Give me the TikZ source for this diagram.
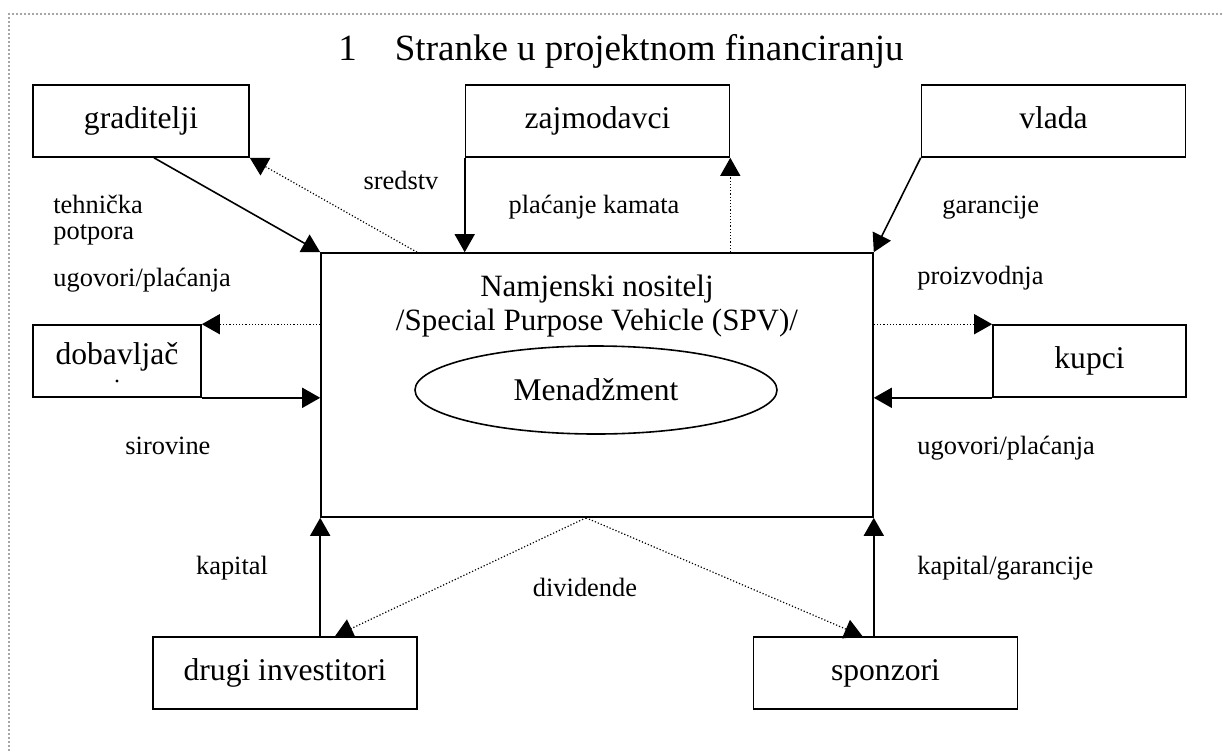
\documentclass[tikz,border=0pt]{standalone}
\usepackage{fontspec}
\setmainfont{Liberation Serif}
\usetikzlibrary{shapes.geometric,arrows.meta,positioning}
\tikzstyle{block} = [rectangle, draw, line width=0.8pt, text centered, minimum height=36pt, text height=11pt, text depth=3.4pt, font=\fontsize{15.8}{18}\selectfont]
\tikzstyle{wideblock} = [block, minimum width=132pt]
\tikzstyle{note} = [inner sep=0pt, text height=9pt, text depth=2.6pt, font=\fontsize{13.2}{15}\selectfont]
\tikzstyle{flow} = [line width=0.8pt, -{Triangle[length=9pt,width=10pt]}]
\tikzstyle{back} = [flow, line width=0.6pt, densely dotted]

\begin{document}
\begin{tikzpicture}[x=0.5pt,y=-0.5pt]
    \useasboundingbox (0,0) rectangle (1223,751);
    \draw [gray!70, line width=1pt, dash pattern=on 1pt off 1pt] (9,751) -- (9,14) -- (1223,14);

    \node [anchor=base west, inner sep=0pt, font=\fontsize{18.5}{22}\selectfont] (title) at (338,60) {1\hspace{19pt}Stranke u projektnom financiranju};

    \node [block, minimum width=108pt] (graditelji) at (141,121) {graditelji};
    \node [wideblock] (zajmodavci) at (597.5,121) {zajmodavci};
    \node [wideblock] (vlada) at (1053.5,121) {vlada};
    \node [block, minimum width=84pt, text depth=7.4pt] (dobavljac) at (117,361) {dobavljač};
    \node [block, minimum width=96.5pt] (kupci) at (1089.5,361) {kupci};
    \node [wideblock] (drugi) at (285,673) {drugi investitori};
    \node [wideblock] (sponzori) at (885.5,673) {sponzori};

    \node [rectangle, draw, line width=0.8pt, minimum width=276pt, minimum height=132pt] (spv) at (597,385) {};
    \node [align=center, font=\fontsize{15.5}{17}\selectfont] (spvname) at (597,306) {Namjenski nositelj\\/Special Purpose Vehicle (SPV)/};
    \node [ellipse, draw, line width=0.8pt, minimum width=181pt, minimum height=44pt, font=\fontsize{15.8}{18}\selectfont] (mgmt) at (596,390) {Menadžment};
    \fill (117,381) circle (0.8pt);

    % labels
    \node [note, anchor=west] (tehnicka) at (53,207) {tehnička};
    \node [note, anchor=west] (potpora) at (53,233) {potpora};
    \node [note, anchor=west] (ugovorilijevo) at (53,280) {ugovori/plaćanja};
    \node [note, anchor=west] (sirovine) at (125,448) {sirovine};
    \node [note] (sredstva) at (401,183) {sredstv};
    \node [note] (kamate) at (594,207) {plaćanje kamata};
    \node [note, anchor=west] (garancije) at (942,207) {garancije};
    \node [note, anchor=west] (proizvodnja) at (917,278) {proizvodnja};
    \node [note, anchor=west] (ugovoridesno) at (917,448) {ugovori/plaćanja};
    \node [note] (kapital) at (232,568) {kapital};
    \node [note] (dividende) at (585,590) {dividende};
    \node [note, anchor=west] (kapgar) at (917,568) {kapital/garancije};

     \draw [flow] ([xshift=6.5pt]graditelji.south) -- (spv.north west);
     \draw [back] ([xshift=-90pt]spv.north) -- (graditelji.south east);
     \draw [flow] (zajmodavci.south west) -- (zajmodavci.south west |- spv.north);
     \draw [back] (zajmodavci.south east |- spv.north) -- (zajmodavci.south east);
     \draw [flow] (vlada.south west) -- (spv.north east);

     \draw [back] (spv.west |- dobavljac.north) -- (dobavljac.north east);
     \draw [flow] (dobavljac.south east) -- (spv.west |- dobavljac.south);
     \draw [back] (spv.east |- kupci.north) -- (kupci.north west);
     \draw [flow] (kupci.south west) -- (spv.east |- kupci.south);

     \draw [flow] (spv.south west |- drugi.north) -- (spv.south west);
     \draw [back] ([xshift=-5.5pt]spv.south) -- ([xshift=25pt]drugi.north);
     \draw [back] ([xshift=-5.5pt]spv.south) -- ([xshift=-11.5pt]sponzori.north);
     \draw [flow] (spv.south east |- sponzori.north) -- (spv.south east);
\end{tikzpicture}
\end{document}
